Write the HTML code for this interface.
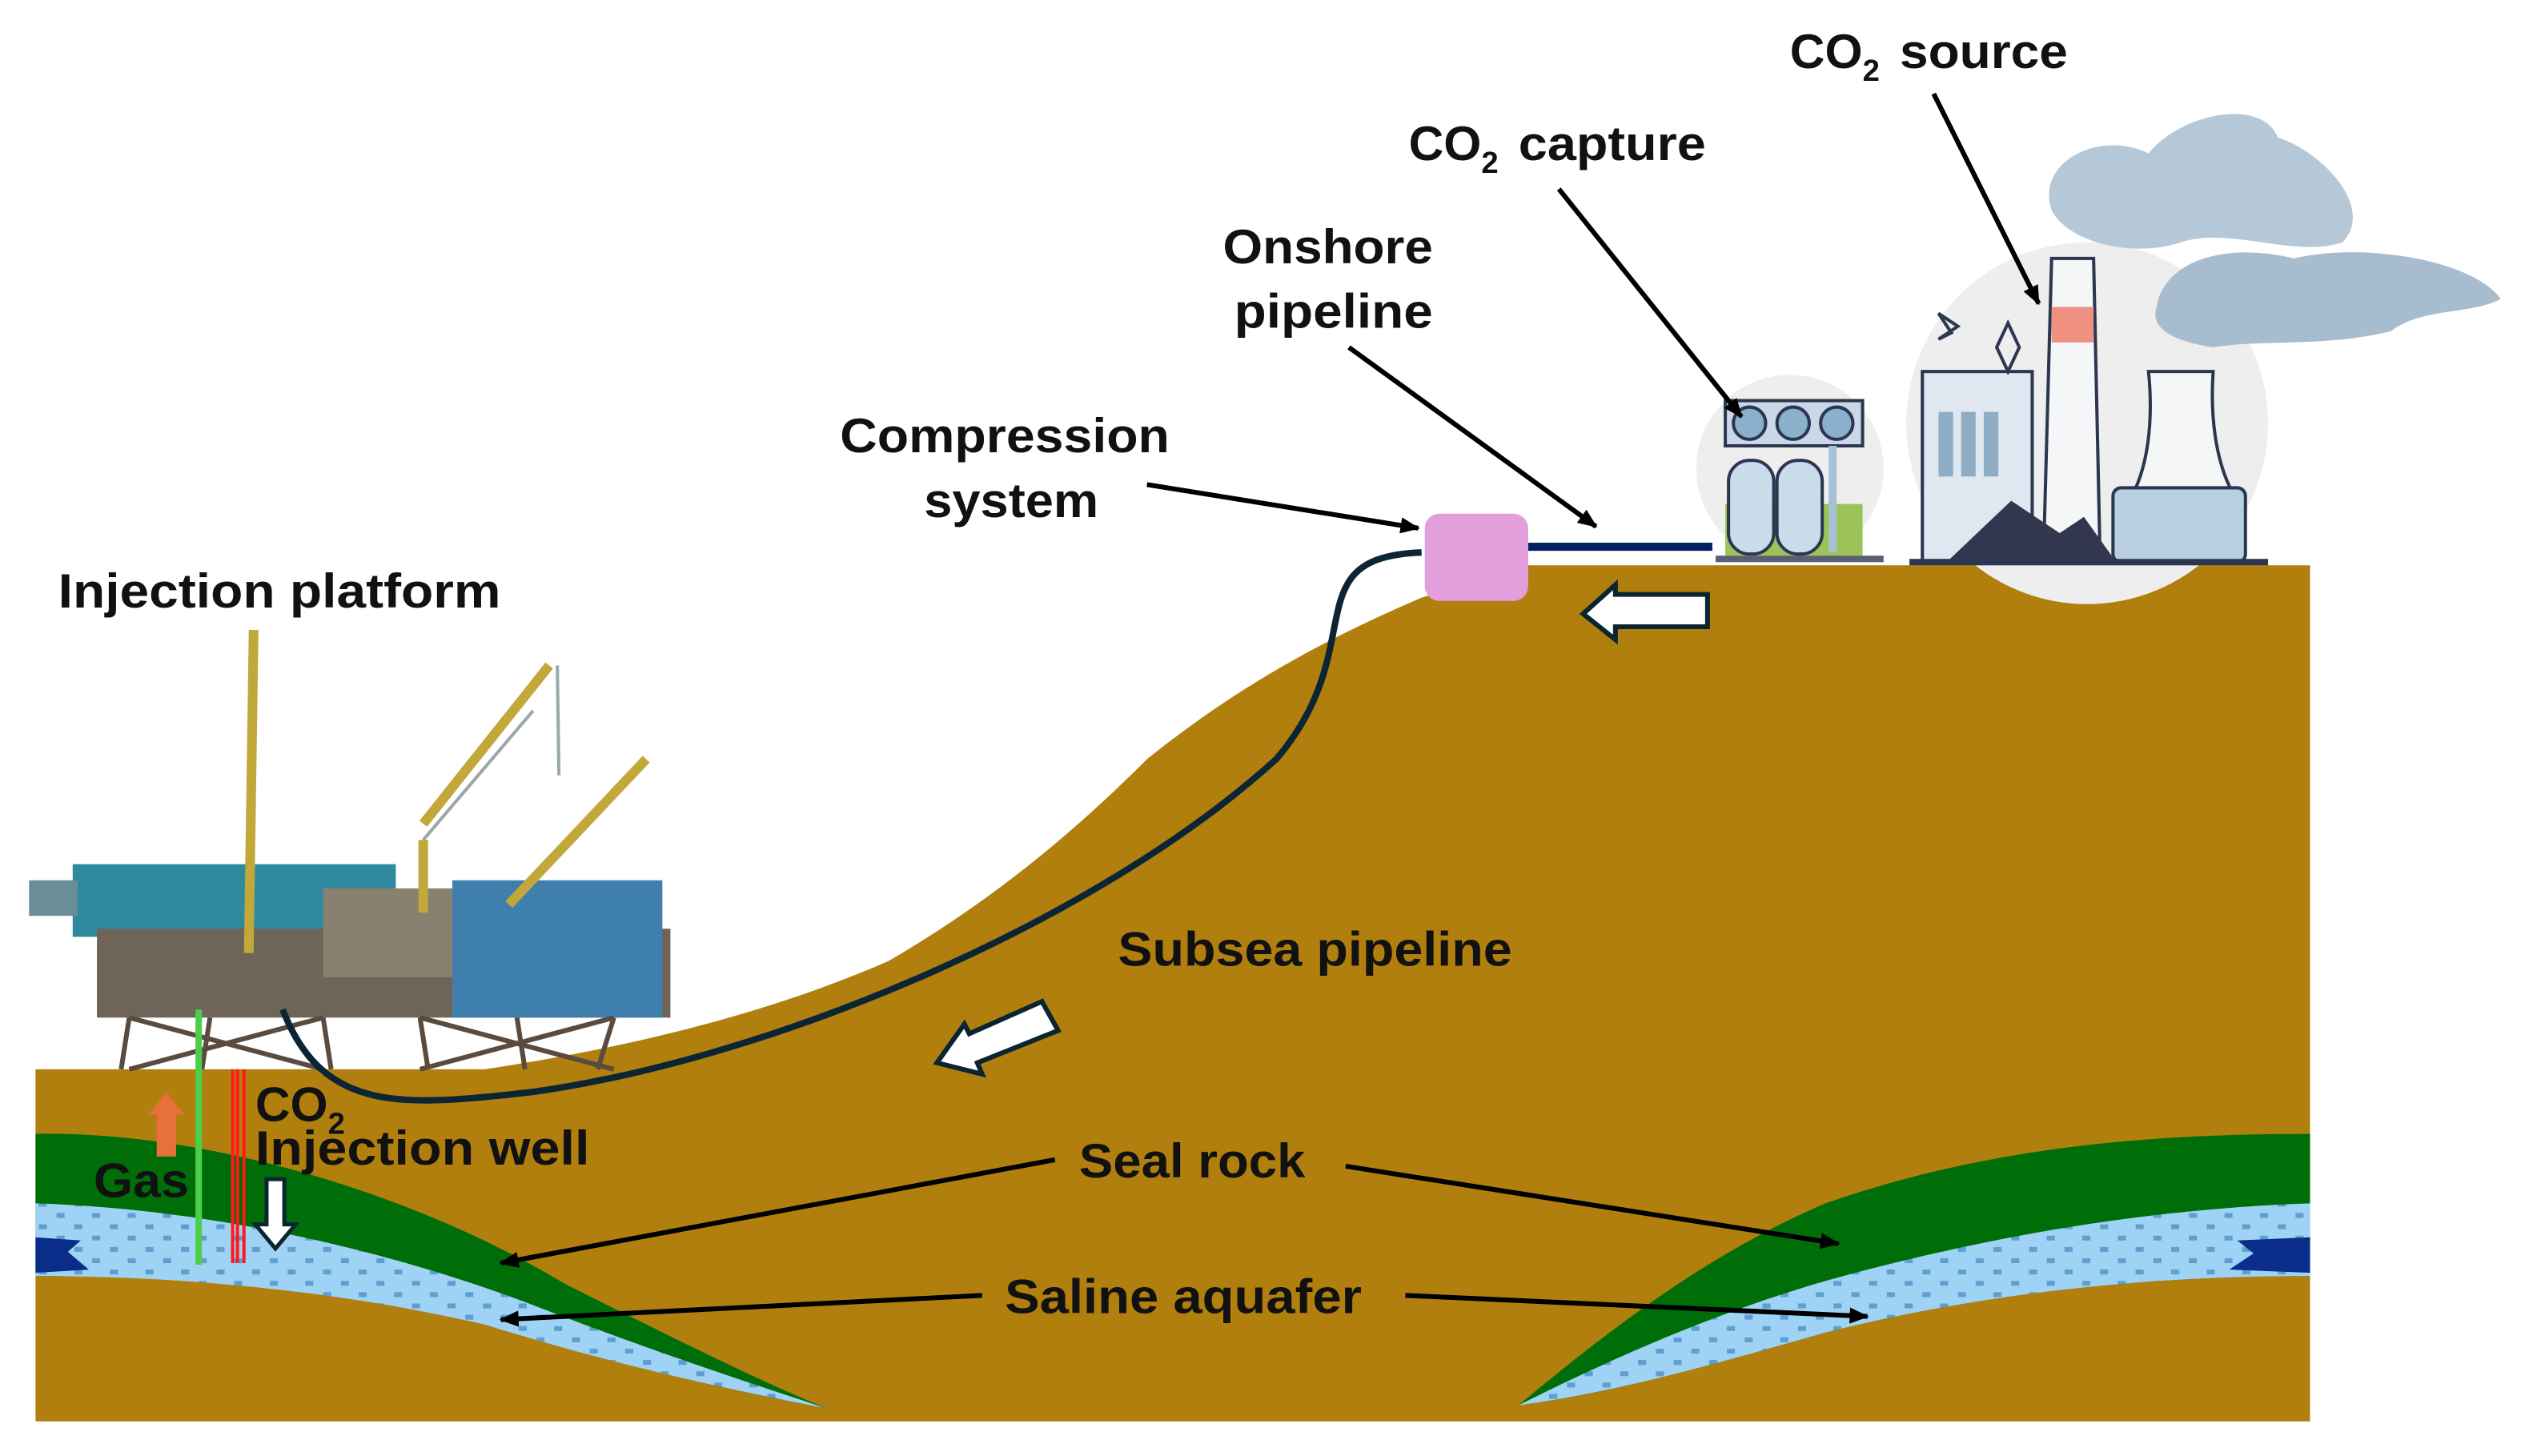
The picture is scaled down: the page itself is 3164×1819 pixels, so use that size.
<!DOCTYPE html>
<html><head><meta charset="utf-8"><style>
html,body{margin:0;padding:0;background:#fff;}
svg{display:block;}
text{font-family:"Liberation Sans",sans-serif;font-weight:bold;fill:#111;}
</style></head><body>
<svg width="3164" height="1819" viewBox="0 0 1568 901.4" xmlns="http://www.w3.org/2000/svg">
<defs>
<marker id="ah" markerWidth="12" markerHeight="10" refX="11" refY="5" orient="auto" markerUnits="userSpaceOnUse" viewBox="0 0 12 10">
<path d="M0,0 L12,5 L0,10 Z" fill="#000"/></marker>
<pattern id="dots" width="22" height="14" patternUnits="userSpaceOnUse">
<rect width="22" height="14" fill="#9fd3f5"/>
<rect x="2" y="2" width="5" height="3" fill="#5d9fd0"/><rect x="13" y="9" width="5" height="3" fill="#5d9fd0"/>
</pattern>
</defs>
<!-- ground -->
<path d="M22,662 L300,662 C380,650 470,630 550,595 C610,560 660,520 710,470 C760,430 810,400 880,370 L945,350 L1430,350 L1430,880 L22,880 Z" fill="#b07f0e"/>
<!-- left seal rock and aquifer -->
<path d="M22,702 C120,700 250,735 350,795 C420,830 470,855 512,872 C450,860 380,845 300,818 C200,795 100,790 22,790 Z" fill="#006e08"/>
<path d="M22,745 C120,748 230,770 330,808 C400,835 460,855 512,872 C450,860 380,845 300,820 C200,797 100,790 22,790 Z" fill="url(#dots)"/>
<path d="M22,766 L50,768 L42,775 L55,786 L22,788 Z" fill="#0a2d8a"/>
<!-- right seal rock and aquifer -->
<path d="M940,870 C1000,820 1060,775 1130,745 C1230,710 1330,702 1430,702 L1430,790 C1330,790 1230,800 1130,825 C1060,845 1000,862 940,870 Z" fill="#006e08"/>
<path d="M940,870 C1010,835 1080,805 1160,785 C1250,762 1340,748 1430,745 L1430,790 C1330,790 1230,800 1130,825 C1060,845 1000,862 940,870 Z" fill="url(#dots)"/>
<path d="M1430,766 L1385,768 L1395,776 L1380,786 L1430,788 Z" fill="#0a2d8a"/>
<!-- platform -->
<g>
<rect x="45" y="535" width="200" height="45" fill="#2e8a9e"/>
<rect x="60" y="575" width="355" height="55" fill="#6e6458"/>
<rect x="280" y="545" width="130" height="85" fill="#3f7fae"/>
<rect x="200" y="550" width="80" height="55" fill="#8a8070"/>
<rect x="18" y="545" width="30" height="22" fill="#6a8e98"/>
<g stroke="#5b4a3e" stroke-width="3">
<line x1="80" y1="630" x2="75" y2="662"/><line x1="130" y1="630" x2="125" y2="662"/><line x1="200" y1="630" x2="205" y2="662"/>
<line x1="260" y1="630" x2="265" y2="662"/><line x1="320" y1="630" x2="325" y2="662"/><line x1="380" y1="630" x2="370" y2="662"/>
<line x1="80" y1="630" x2="200" y2="662"/><line x1="200" y1="630" x2="80" y2="662"/><line x1="260" y1="630" x2="380" y2="662"/><line x1="380" y1="630" x2="260" y2="662"/>
</g>
<g stroke="#c2a83a" stroke-width="6"><line x1="157" y1="390" x2="154" y2="590"/><line x1="262" y1="510" x2="340" y2="412"/><line x1="262" y1="520" x2="262" y2="565"/><line x1="315" y1="560" x2="400" y2="470"/></g>
<g stroke="#9aa8a8" stroke-width="2"><line x1="345" y1="412" x2="346" y2="480"/><line x1="262" y1="520" x2="330" y2="440"/></g>
</g>
<!-- wells -->
<rect x="121" y="625" width="4" height="158" fill="#4cce4c"/>
<rect x="143" y="662" width="2" height="120" fill="#ff1a1a"/><rect x="146" y="662" width="2" height="120" fill="#ff1a1a"/><rect x="150" y="662" width="2" height="120" fill="#ff1a1a"/>
<path d="M97,716 L97,690 L92,690 L103,676 L114,690 L109,690 L109,716 Z" fill="#e8703a"/>
<path d="M165,730 L176,730 L176,758 L183,758 L170.5,773 L158,758 L165,758 Z" fill="#fff" stroke="#0a2530" stroke-width="2.5"/>
<!-- pipelines -->
<path d="M175,625 C200,690 250,685 330,676 C480,655 680,570 790,470 C850,400 800,345 880,342" fill="none" stroke="#0c2535" stroke-width="4"/>
<rect x="946" y="336" width="114" height="5" fill="#002060"/>
<rect x="882" y="318" width="64" height="54" rx="9" fill="#e39edc"/>
<!-- hollow arrows -->
<path d="M1057,368 L1000,368 L1000,362 L980,380 L1000,396 L1000,388 L1057,388 Z" fill="#fff" stroke="#0a2530" stroke-width="3"/>
<path d="M645,620 L600,640 L597,634 L580,658 L608,665 L605,658 L655,638 Z" fill="#fff" stroke="#0a2530" stroke-width="3"/>
<!-- capture unit -->
<circle cx="1108" cy="290" r="58" fill="#eeeeee"/>
<rect x="1068" y="312" width="85" height="32" fill="#9cc35a"/>
<rect x="1068" y="248" width="85" height="28" fill="#c8d8e6" stroke="#2d3650" stroke-width="2"/>
<circle cx="1083" cy="262" r="10" fill="#8ab0cc" stroke="#2d3650" stroke-width="2"/><circle cx="1110" cy="262" r="10" fill="#8ab0cc" stroke="#2d3650" stroke-width="2"/><circle cx="1137" cy="262" r="10" fill="#8ab0cc" stroke="#2d3650" stroke-width="2"/>
<rect x="1070" y="285" width="28" height="58" rx="13" fill="#c8dcea" stroke="#2d3650" stroke-width="2"/>
<rect x="1100" y="285" width="28" height="58" rx="13" fill="#c8dcea" stroke="#2d3650" stroke-width="2"/>
<rect x="1132" y="276" width="5" height="66" fill="#a8c0d4"/>
<rect x="1062" y="344" width="104" height="4" fill="#5a6070"/>
<!-- factory -->
<circle cx="1292" cy="262" r="112" fill="#eeeeee"/>
<rect x="1190" y="230" width="68" height="118" fill="#dfe8f0" stroke="#2d3650" stroke-width="2"/>
<rect x="1200" y="255" width="9" height="40" fill="#8eacc4"/><rect x="1214" y="255" width="9" height="40" fill="#8eacc4"/><rect x="1228" y="255" width="9" height="40" fill="#8eacc4"/>
<path d="M1270,160 L1296,160 L1300,345 L1265,345 Z" fill="#f4f6f8" stroke="#2d3650" stroke-width="2"/>
<rect x="1270" y="190" width="26" height="22" fill="#ef9080"/>
<path d="M1330,230 L1370,230 C1368,260 1372,290 1385,310 L1318,310 C1330,290 1333,260 1330,230 Z" fill="#f4f6f8" stroke="#2d3650" stroke-width="2"/>
<rect x="1308" y="302" width="82" height="46" rx="5" fill="#b8cfe0" stroke="#2d3650" stroke-width="2"/>
<path d="M1205,348 L1245,310 L1275,330 L1290,320 L1310,348 Z" fill="#32374f"/>
<rect x="1182" y="346" width="222" height="4" fill="#2d3650"/>
<path d="M1200,210 L1212,202 L1200,194 L1208,206 Z" fill="none" stroke="#2d3650" stroke-width="2"/>
<path d="M1243,200 L1250,215 L1243,230 L1236,215 Z" fill="none" stroke="#2d3650" stroke-width="2"/>
<!-- smoke -->
<path d="M1270,130 C1260,100 1300,80 1330,95 C1350,70 1400,60 1410,85 C1440,95 1470,130 1450,150 C1420,160 1380,140 1350,150 C1320,160 1280,150 1270,130 Z" fill="#b4c8d8"/>
<path d="M1335,190 C1340,160 1380,150 1420,160 C1460,150 1530,160 1548,185 C1530,195 1500,190 1480,205 C1440,215 1400,210 1370,215 C1350,212 1330,205 1335,190 Z" fill="#a8bccf"/>
<!-- labels -->
<g font-size="30">
<text x="1108" y="42">CO<tspan font-size="19" dy="8">2</tspan><tspan dy="-8" x="1176" textLength="104" lengthAdjust="spacingAndGlyphs">source</tspan></text>
<text x="872" y="99">CO<tspan font-size="19" dy="8">2</tspan><tspan dy="-8" x="940" textLength="116" lengthAdjust="spacingAndGlyphs">capture</tspan></text>
<text x="757" y="163" textLength="130" lengthAdjust="spacingAndGlyphs">Onshore</text>
<text x="764" y="203" textLength="123" lengthAdjust="spacingAndGlyphs">pipeline</text>
<text x="520" y="280" textLength="204" lengthAdjust="spacingAndGlyphs">Compression</text>
<text x="572" y="320" textLength="108" lengthAdjust="spacingAndGlyphs">system</text>
<text x="36" y="376" textLength="274" lengthAdjust="spacingAndGlyphs">Injection platform</text>
<text x="692" y="598" textLength="244" lengthAdjust="spacingAndGlyphs">Subsea pipeline</text>
<text x="668" y="729" textLength="140" lengthAdjust="spacingAndGlyphs">Seal rock</text>
<text x="622" y="813" textLength="221" lengthAdjust="spacingAndGlyphs">Saline aquafer</text>
<text x="58" y="741" textLength="59" lengthAdjust="spacingAndGlyphs">Gas</text>
<text x="158" y="694">CO<tspan font-size="19" dy="8">2</tspan></text>
<text x="158" y="721" textLength="207" lengthAdjust="spacingAndGlyphs">Injection well</text>
</g>
<g stroke="#000" stroke-width="3" marker-end="url(#ah)" fill="none">
<line x1="1197" y1="58" x2="1262" y2="188"/>
<line x1="965" y1="117" x2="1078" y2="258"/>
<line x1="835" y1="215" x2="988" y2="326"/>
<line x1="710" y1="300" x2="878" y2="327"/>
<line x1="653" y1="718" x2="310" y2="782"/>
<line x1="833" y1="722" x2="1138" y2="770"/>
<line x1="608" y1="802" x2="310" y2="817"/>
<line x1="870" y1="802" x2="1156" y2="815"/>
</g>
</svg>
</body></html>
